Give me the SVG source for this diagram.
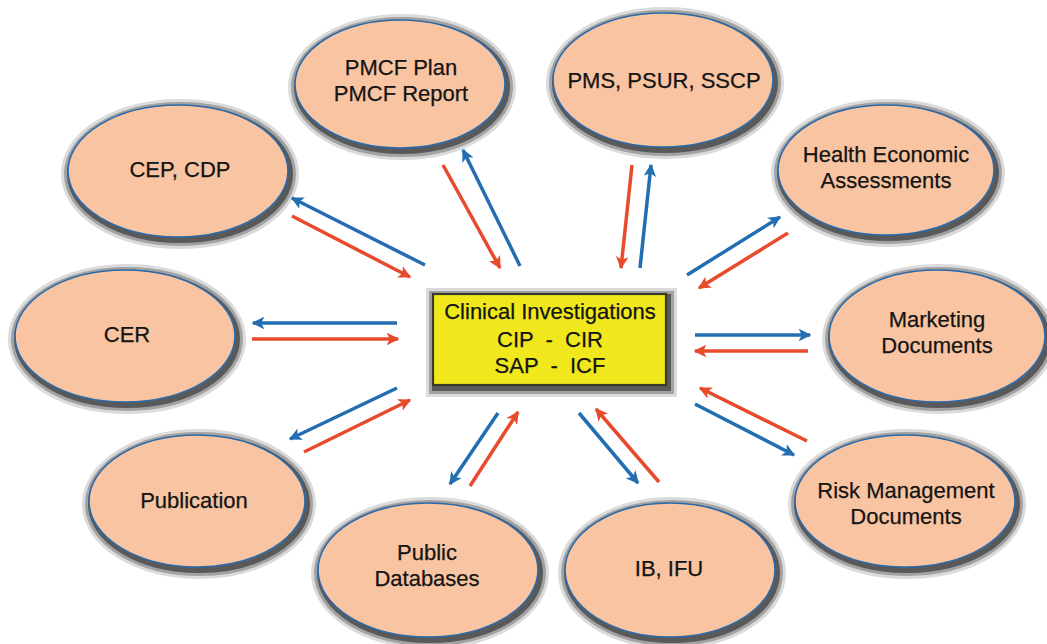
<svg xmlns="http://www.w3.org/2000/svg" width="1047" height="644" viewBox="0 0 1047 644">
  <defs>
    <marker id="hb" viewBox="0 0 10 10" refX="9" refY="5" markerWidth="3.6" markerHeight="3.6" orient="auto" markerUnits="strokeWidth">
      <path d="M0,0 L10,5 L0,10 L2.5,5 Z" fill="#226eb0"/>
    </marker>
    <marker id="hr" viewBox="0 0 10 10" refX="9" refY="5" markerWidth="3.6" markerHeight="3.6" orient="auto" markerUnits="strokeWidth">
      <path d="M0,0 L10,5 L0,10 L2.5,5 Z" fill="#e84a2c"/>
    </marker>
  </defs>
  <style>
    .e { fill: #f8c4a1; stroke: #2a6aab; stroke-width: 1.6; }
    .s1 { fill: none; stroke: #3a3a3a; stroke-width: 18; stroke-opacity: 0.18; }
    .s2 { fill: none; stroke: #3a3a3a; stroke-width: 12; stroke-opacity: 0.35; }
    .s3 { fill: none; stroke: #3a3a3a; stroke-width: 6; stroke-opacity: 0.7; }
    .t { font-family: "Liberation Sans", Arial, sans-serif; font-size: 22px; fill: #141414; stroke: #141414; stroke-width: 0.25; text-anchor: middle; }
    .b { stroke: #226eb0; stroke-width: 3.5; fill: none; marker-end: url(#hb); }
    .r { stroke: #e84a2c; stroke-width: 3.5; fill: none; marker-end: url(#hr); }
  </style>
  <rect width="1047" height="644" fill="#ffffff"/>

  <g id="connectors">
    <line class="b" x1="425" y1="265" x2="292" y2="198"/>
    <line class="r" x1="292" y1="216" x2="410" y2="277"/>
    <line class="r" x1="443" y1="165" x2="500" y2="268"/>
    <line class="b" x1="520" y1="266" x2="463" y2="150"/>
    <line class="r" x1="632" y1="165" x2="621" y2="268"/>
    <line class="b" x1="640" y1="268" x2="651" y2="165"/>
    <line class="b" x1="687" y1="275" x2="780" y2="217"/>
    <line class="r" x1="788" y1="233" x2="699" y2="288"/>
    <line class="b" x1="397" y1="323" x2="253" y2="323"/>
    <line class="r" x1="252" y1="339" x2="398" y2="339"/>
    <line class="b" x1="695" y1="335" x2="810" y2="335"/>
    <line class="r" x1="808" y1="351" x2="695" y2="351"/>
    <line class="b" x1="397" y1="388" x2="290" y2="439"/>
    <line class="r" x1="304" y1="452" x2="410" y2="400"/>
    <line class="r" x1="807" y1="441" x2="700" y2="388"/>
    <line class="b" x1="695" y1="404" x2="794" y2="455"/>
    <line class="b" x1="498" y1="413" x2="450" y2="484"/>
    <line class="r" x1="470" y1="486" x2="518" y2="412"/>
    <line class="b" x1="579" y1="413" x2="638" y2="483"/>
    <line class="r" x1="659" y1="482" x2="596" y2="409"/>
  </g>

  <g id="center">
    <rect class="s1" x="435" y="297" width="233" height="91"/>
    <rect class="s2" x="435" y="297" width="233" height="91"/>
    <rect class="s3" x="435" y="297" width="233" height="91"/>
    <rect x="433" y="294" width="233" height="91" fill="#f0e81c" stroke="#3a3a2a" stroke-width="2.2"/>
    <text class="t" x="550" y="319">Clinical Investigations</text>
    <text class="t" x="550" y="347" xml:space="preserve">CIP  -  CIR</text>
    <text class="t" x="550" y="373" xml:space="preserve">SAP  -  ICF</text>
  </g>

  <g id="pmcf">
    <ellipse class="s1" cx="402" cy="87" rx="105" ry="64"/>
    <ellipse class="s2" cx="402" cy="87" rx="105" ry="64"/>
    <ellipse class="s3" cx="402" cy="87" rx="105" ry="64"/>
    <ellipse class="e" cx="400" cy="84" rx="105" ry="64"/>
    <text class="t" x="401" y="75">PMCF Plan</text>
    <text class="t" x="401" y="101">PMCF Report</text>
  </g>
  <g id="pms">
    <ellipse class="s1" cx="665" cy="83" rx="110" ry="67"/>
    <ellipse class="s2" cx="665" cy="83" rx="110" ry="67"/>
    <ellipse class="s3" cx="665" cy="83" rx="110" ry="67"/>
    <ellipse class="e" cx="663" cy="80" rx="110" ry="67"/>
    <text class="t" x="664" y="88">PMS, PSUR, SSCP</text>
  </g>
  <g id="cep">
    <ellipse class="s1" cx="180" cy="174" rx="110" ry="66"/>
    <ellipse class="s2" cx="180" cy="174" rx="110" ry="66"/>
    <ellipse class="s3" cx="180" cy="174" rx="110" ry="66"/>
    <ellipse class="e" cx="178" cy="171" rx="110" ry="66"/>
    <text class="t" x="180" y="177">CEP, CDP</text>
  </g>
  <g id="health">
    <ellipse class="s1" cx="888" cy="173" rx="108" ry="65"/>
    <ellipse class="s2" cx="888" cy="173" rx="108" ry="65"/>
    <ellipse class="s3" cx="888" cy="173" rx="108" ry="65"/>
    <ellipse class="e" cx="886" cy="170" rx="108" ry="65"/>
    <text class="t" x="886" y="162">Health Economic</text>
    <text class="t" x="886" y="188">Assessments</text>
  </g>
  <g id="cer">
    <ellipse class="s1" cx="127" cy="339" rx="110" ry="66"/>
    <ellipse class="s2" cx="127" cy="339" rx="110" ry="66"/>
    <ellipse class="s3" cx="127" cy="339" rx="110" ry="66"/>
    <ellipse class="e" cx="125" cy="336" rx="110" ry="66"/>
    <text class="t" x="127" y="342">CER</text>
  </g>
  <g id="marketing">
    <ellipse class="s1" cx="939" cy="339" rx="108" ry="66"/>
    <ellipse class="s2" cx="939" cy="339" rx="108" ry="66"/>
    <ellipse class="s3" cx="939" cy="339" rx="108" ry="66"/>
    <ellipse class="e" cx="937" cy="336" rx="108" ry="66"/>
    <text class="t" x="937" y="327">Marketing</text>
    <text class="t" x="937" y="353">Documents</text>
  </g>
  <g id="publication">
    <ellipse class="s1" cx="199" cy="504" rx="108" ry="66"/>
    <ellipse class="s2" cx="199" cy="504" rx="108" ry="66"/>
    <ellipse class="s3" cx="199" cy="504" rx="108" ry="66"/>
    <ellipse class="e" cx="197" cy="501" rx="108" ry="66"/>
    <text class="t" x="194" y="508">Publication</text>
  </g>
  <g id="risk">
    <ellipse class="s1" cx="907" cy="504" rx="110" ry="66"/>
    <ellipse class="s2" cx="907" cy="504" rx="110" ry="66"/>
    <ellipse class="s3" cx="907" cy="504" rx="110" ry="66"/>
    <ellipse class="e" cx="905" cy="501" rx="110" ry="66"/>
    <text class="t" x="906" y="498">Risk Management</text>
    <text class="t" x="906" y="524">Documents</text>
  </g>
  <g id="publicdb">
    <ellipse class="s1" cx="430" cy="573" rx="110" ry="67"/>
    <ellipse class="s2" cx="430" cy="573" rx="110" ry="67"/>
    <ellipse class="s3" cx="430" cy="573" rx="110" ry="67"/>
    <ellipse class="e" cx="428" cy="570" rx="110" ry="67"/>
    <text class="t" x="427" y="560">Public</text>
    <text class="t" x="427" y="586">Databases</text>
  </g>
  <g id="ibifu">
    <ellipse class="s1" cx="672" cy="573" rx="105" ry="67"/>
    <ellipse class="s2" cx="672" cy="573" rx="105" ry="67"/>
    <ellipse class="s3" cx="672" cy="573" rx="105" ry="67"/>
    <ellipse class="e" cx="670" cy="570" rx="105" ry="67"/>
    <text class="t" x="669" y="576">IB, IFU</text>
  </g>
</svg>
